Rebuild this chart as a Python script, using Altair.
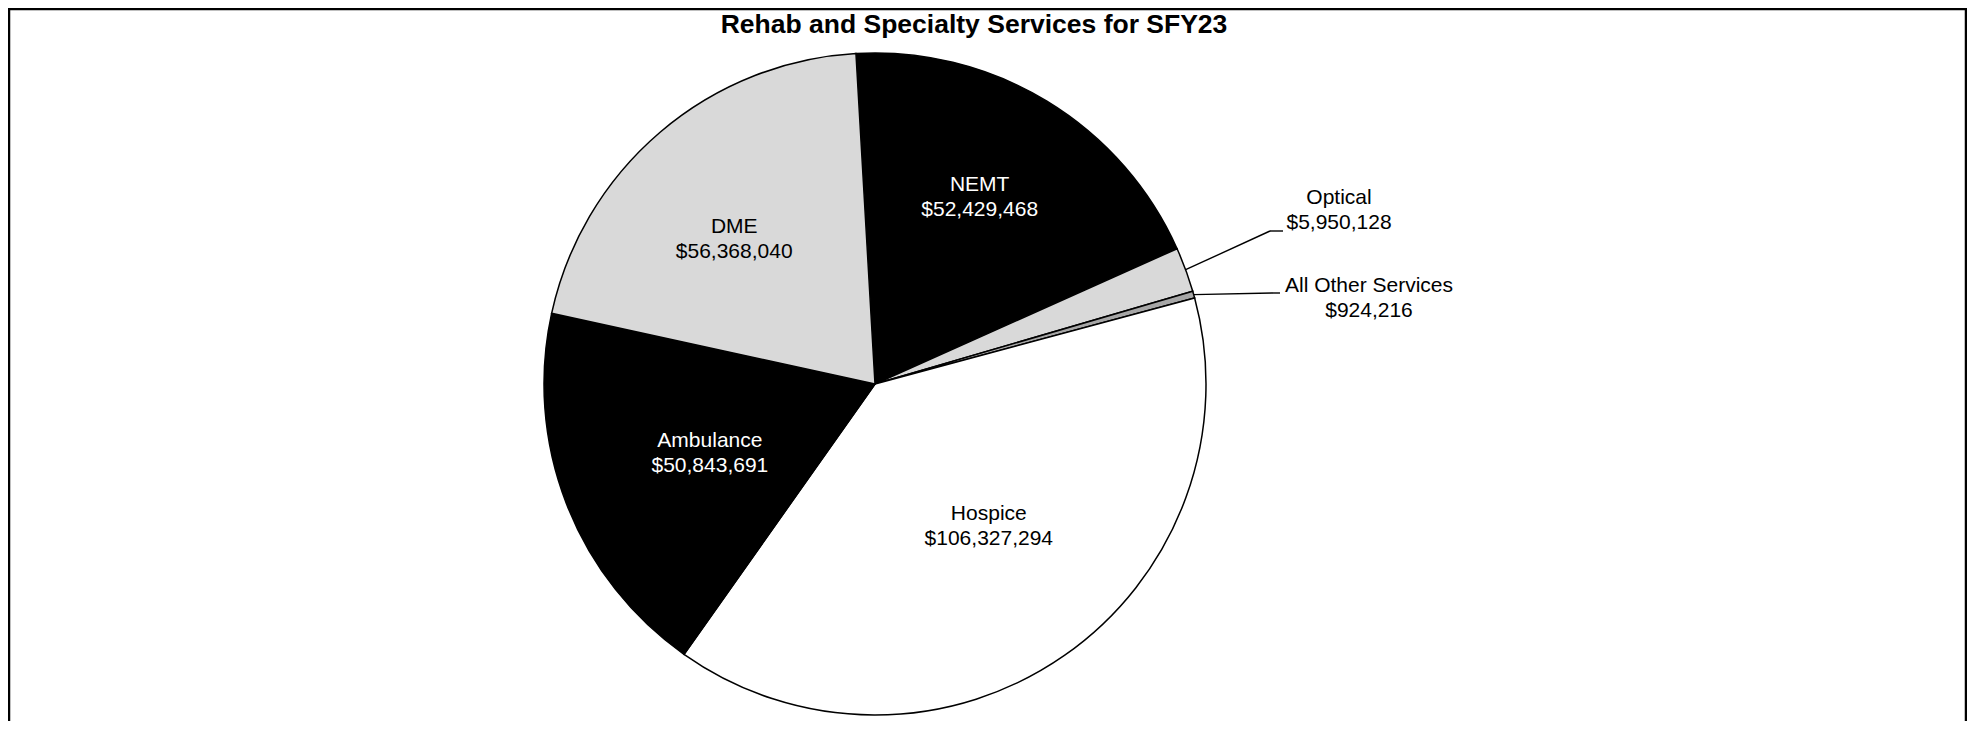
import math
import altair as alt
import pandas as pd

# ---------------- data ----------------
title_text = "Rehab and Specialty Services for SFY23"
categories = ["NEMT", "Optical", "All Other Services", "Hospice", "Ambulance", "DME"]
values = [52429468, 5950128, 924216, 106327294, 50843691, 56368040]
fill_colors = ["#000000", "#d9d9d9", "#a6a6a6", "#ffffff", "#000000", "#d9d9d9"]
dark_slices = ["NEMT", "Ambulance"]
outside_slices = ["Optical", "All Other Services"]

# ---------------- layout ----------------
FONT = "Liberation Sans"
W, H = 1959, 713
CX, CY, R = 867, 376, 331
START = math.radians(-3.3)
LINE_H = 25
# inside labels: radial distance (px) and angular nudge from slice middle (degrees)
inside_label_radius = {"NEMT": 214, "DME": 202, "Ambulance": 179, "Hospice": 182}
inside_label_nudge = {"NEMT": -2.0, "DME": -3.7, "Ambulance": -1.5, "Hospice": -3.8}
# outside labels: text-block centre, leader elbow, leader end (plot pixels)
outside_layout = {
    "Optical": dict(tx=1331, ty=202, ex=1262, ey=223, fx=1275, fy=223),
    "All Other Services": dict(tx=1361, ty=290, ex=1265, ey=285, fx=1272, fy=285),
}

labels = [f"{c}\n${v:,}" for c, v in zip(categories, values)]
df = pd.DataFrame({
    "category": categories,
    "value": values,
    "order": list(range(len(categories))),
    "label": labels,
})
df["lr"] = [inside_label_radius.get(c, 0) for c in categories]
df["nudge"] = [math.radians(inside_label_nudge.get(c, 0)) for c in categories]
for k in ["tx", "ty", "ex", "ey", "fx", "fy"]:
    df[k] = [outside_layout.get(c, {}).get(k, 0) for c in categories]

theta_scale = alt.Scale(range=[START, START + 2 * math.pi])

base = alt.Chart(df)

arcs = base.mark_arc(outerRadius=R, stroke="black", strokeWidth=1.5).encode(
    theta=alt.Theta("value:Q", stack=True, scale=theta_scale),
    order=alt.Order("order:Q", sort="ascending"),
    fill=alt.Fill("category:N", scale=alt.Scale(domain=categories, range=fill_colors), legend=None),
    x=alt.value(CX),
    y=alt.value(CY),
)

geo = (
    base.transform_window(cum="sum(value)", sort=[alt.SortField("order")], frame=[None, 0])
    .transform_joinaggregate(total="sum(value)")
    .transform_calculate(mid=f"{START} + 2*PI*(datum.cum - datum.value/2)/datum.total")
    .transform_calculate(
        ax=f"{CX} + {R}*sin(datum.mid)",
        ay=f"{CY} - {R}*cos(datum.mid)",
        lx=f"{CX} + datum.lr*sin(datum.mid + datum.nudge)",
        ly=f"{CY} - datum.lr*cos(datum.mid + datum.nudge)",
    )
)

inside_geo = geo.transform_filter(
    {"not": alt.FieldOneOfPredicate(field="category", oneOf=outside_slices)}
)
outside_geo = geo.transform_filter(alt.FieldOneOfPredicate(field="category", oneOf=outside_slices))

inside_text = inside_geo.mark_text(
    font=FONT, fontSize=21, lineBreak="\n", lineHeight=LINE_H, align="center",
    baseline="middle", dy=-LINE_H / 2,
).encode(
    x=alt.X("lx:Q", scale=None),
    y=alt.Y("ly:Q", scale=None),
    text=alt.Text("label:N"),
    fill=alt.condition(
        alt.FieldOneOfPredicate(field="category", oneOf=dark_slices),
        alt.value("white"),
        alt.value("black"),
    ),
)

leader1 = outside_geo.mark_rule(color="black", strokeWidth=1.4).encode(
    x=alt.X("ax:Q", scale=None), y=alt.Y("ay:Q", scale=None), x2="ex:Q", y2="ey:Q"
)
leader2 = outside_geo.mark_rule(color="black", strokeWidth=1.4).encode(
    x=alt.X("ex:Q", scale=None), y=alt.Y("ey:Q", scale=None), x2="fx:Q", y2="fy:Q"
)
outside_text = outside_geo.mark_text(
    font=FONT, fontSize=21, lineBreak="\n", lineHeight=LINE_H, align="center",
    baseline="middle", dy=-LINE_H / 2, color="black",
).encode(
    x=alt.X("tx:Q", scale=None), y=alt.Y("ty:Q", scale=None), text="label:N"
)

title = alt.Chart(pd.DataFrame({"t": [title_text]})).mark_text(
    font=FONT, fontSize=26.5, fontWeight="bold", align="center", baseline="alphabetic", color="black"
).encode(text="t:N", x=alt.value(966), y=alt.value(25))

border = alt.Chart(pd.DataFrame({"a": [0]})).mark_rect(
    filled=False, stroke="black", strokeWidth=2.5
).encode(x=alt.value(1), x2=alt.value(W - 1), y=alt.value(1), y2=alt.value(H + 30))

chart = alt.layer(arcs, inside_text, leader1, leader2, outside_text, title, border).properties(
    width=W,
    height=H,
    autosize=alt.AutoSizeParams(type="none"),
    padding=0,
    background="white",
).configure_view(stroke=None)

chart.save("out.html", embed_options={"renderer": "svg", "actions": False})
